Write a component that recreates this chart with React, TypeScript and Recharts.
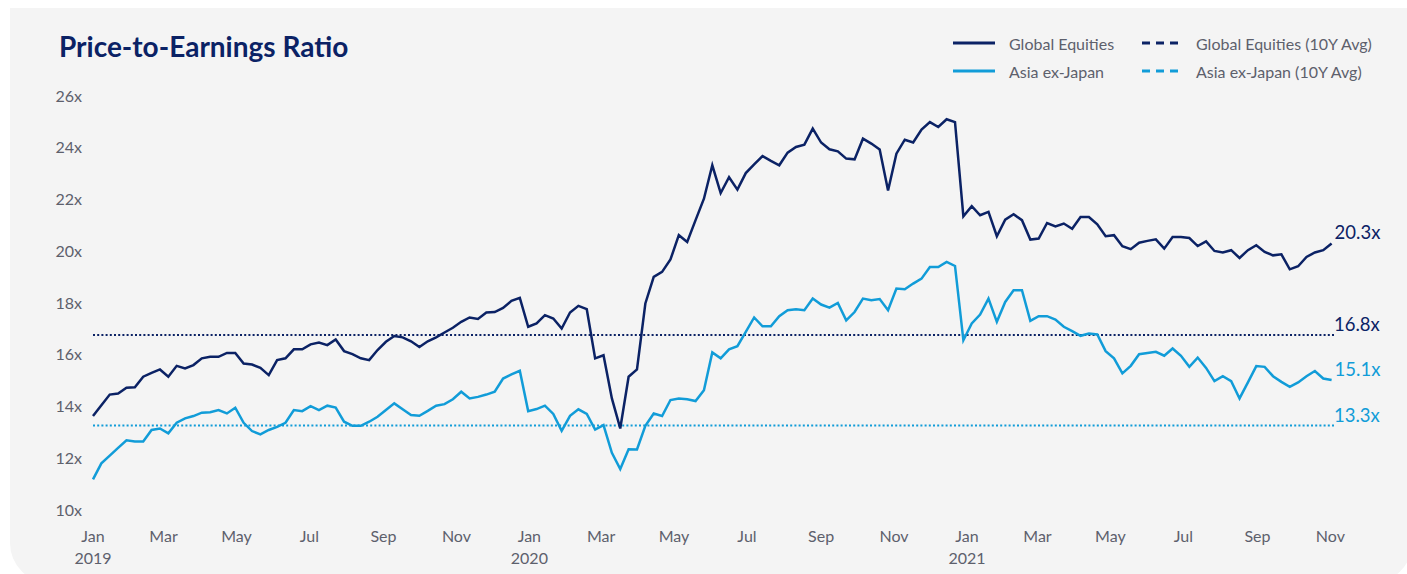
import React from "react";
import { LineChart, Line, XAxis, YAxis, ReferenceLine } from "recharts";

// ---- Data (weekly, Jan 2019 – Nov 2021) ----
const GLOBAL_EQUITIES: number[] = [
  13.67, 14.09, 14.5, 14.54, 14.76, 14.78, 15.19, 15.34, 15.47, 15.19,
  15.61, 15.51, 15.64, 15.9, 15.96, 15.96, 16.11, 16.11, 15.7, 15.66,
  15.53, 15.25, 15.83, 15.9, 16.25, 16.25, 16.44, 16.51, 16.41, 16.63,
  16.18, 16.06, 15.9, 15.83, 16.22, 16.54, 16.76, 16.71, 16.56, 16.34,
  16.56, 16.71, 16.9, 17.08, 17.31, 17.48, 17.42, 17.67, 17.69, 17.85,
  18.12, 18.24, 17.12, 17.25, 17.57, 17.44, 17.05, 17.67, 17.93, 17.8,
  15.9, 16.02, 14.35, 13.19, 15.19, 15.47, 18.02, 19.05, 19.24, 19.72,
  20.66, 20.4, 21.24, 22.07, 23.36, 22.29, 22.9, 22.42, 23.06, 23.4,
  23.72, 23.53, 23.36, 23.85, 24.07, 24.16, 24.78, 24.24, 23.98, 23.9,
  23.62, 23.59, 24.39, 24.2, 23.97, 22.39, 23.81, 24.35, 24.24, 24.74,
  25.03, 24.84, 25.14, 25.03, 21.39, 21.78, 21.43, 21.56, 20.62, 21.26,
  21.47, 21.24, 20.49, 20.53, 21.13, 21.0, 21.11, 20.91, 21.36, 21.36,
  21.08, 20.62, 20.66, 20.23, 20.12, 20.37, 20.44, 20.5, 20.14, 20.59,
  20.59, 20.55, 20.24, 20.42, 20.05, 19.99, 20.08, 19.78, 20.08, 20.27,
  20.01, 19.88, 19.92, 19.34, 19.46, 19.82, 19.99, 20.08, 20.34,
];

const ASIA_EX_JAPAN: number[] = [
  11.22, 11.84, 12.14, 12.44, 12.73, 12.69, 12.69, 13.13, 13.19, 13.0,
  13.41, 13.58, 13.67, 13.8, 13.82, 13.9, 13.77, 13.99, 13.41, 13.09,
  12.96, 13.13, 13.25, 13.41, 13.9, 13.86, 14.05, 13.9, 14.07, 14.0,
  13.45, 13.29, 13.29, 13.45, 13.64, 13.9, 14.16, 13.93, 13.71, 13.68,
  13.87, 14.07, 14.13, 14.32, 14.61, 14.35, 14.41, 14.5, 14.61, 15.12,
  15.28, 15.42, 13.86, 13.94, 14.07, 13.75, 13.1, 13.68, 13.93, 13.75,
  13.15, 13.32, 12.25, 11.62, 12.39, 12.38, 13.29, 13.77, 13.67, 14.29,
  14.35, 14.32, 14.25, 14.67, 16.13, 15.9, 16.25, 16.37, 16.92, 17.48,
  17.14, 17.14, 17.53, 17.76, 17.8, 17.76, 18.21, 17.98, 17.86, 18.04,
  17.37, 17.69, 18.21, 18.15, 18.19, 17.76, 18.6, 18.57, 18.79, 18.98,
  19.43, 19.43, 19.63, 19.47, 16.6, 17.25, 17.59, 18.21, 17.31, 18.08,
  18.53, 18.53, 17.35, 17.53, 17.53, 17.4, 17.12, 16.95, 16.77, 16.86,
  16.82, 16.18, 15.9, 15.32, 15.61, 16.06, 16.11, 16.15, 16.0, 16.28,
  16.0, 15.57, 15.93, 15.53, 15.02, 15.21, 15.02, 14.35, 14.97, 15.6,
  15.57, 15.21, 14.99, 14.8, 14.97, 15.21, 15.41, 15.12, 15.06,
];

const GLOBAL_AVG = 16.8;
const ASIA_AVG = 13.3;
const GLOBAL_END_LABEL = "20.3x";
const ASIA_END_LABEL = "15.1x";

// Days since 1 Jan 2019 for the month ticks
const TICK_DAYS = [0, 59, 120, 181, 243, 304, 365, 425, 486, 547, 609, 670, 731, 790, 851, 912, 974, 1035];
const TICK_MONTHS = ["Jan", "Mar", "May", "Jul", "Sep", "Nov", "Jan", "Mar", "May", "Jul", "Sep", "Nov", "Jan", "Mar", "May", "Jul", "Sep", "Nov"];
const TICK_YEARS = ["2019", "", "", "", "", "", "2020", "", "", "", "", "", "2021", "", "", "", "", ""];
const Y_TICKS = [10, 12, 14, 16, 18, 20, 22, 24, 26];

const LEGEND_ITEMS = [
  { name: "Global Equities", color: "#0b2265", dashed: false },
  { name: "Global Equities (10Y Avg)", color: "#0b2265", dashed: true },
  { name: "Asia ex-Japan", color: "#119cd8", dashed: false },
  { name: "Asia ex-Japan (10Y Avg)", color: "#119cd8", dashed: true },
];

const NAVY = "#0b2265";
const SKY = "#119cd8";
const GRAY = "#5d606c";
const FONT = "Lato, 'Noto Sans', sans-serif";

const data = GLOBAL_EQUITIES.map((v, i) => ({
  day: i * 7,
  ge: v,
  axj: ASIA_EX_JAPAN[i],
}));
const LAST = data.length - 1;

const XTick = (props: any) => {
  const { x, payload } = props;
  const idx = TICK_DAYS.indexOf(payload.value);
  return (
    <g>
      <text x={x} y={527} textAnchor="middle" dominantBaseline="central" fontSize={16} fill={GRAY} fontFamily={FONT}>
        {TICK_MONTHS[idx]}
      </text>
      {TICK_YEARS[idx] ? (
        <text x={x} y={549} textAnchor="middle" dominantBaseline="central" fontSize={16} fill={GRAY} fontFamily={FONT}>
          {TICK_YEARS[idx]}
        </text>
      ) : null}
    </g>
  );
};

const YTick = (props: any) => {
  const { y, payload } = props;
  return (
    <text x={72} y={y - 2} textAnchor="end" dominantBaseline="central" fontSize={16} fill={GRAY} fontFamily={FONT}>
      {`${payload.value}x`}
    </text>
  );
};

const endLabel = (text: string, color: string) => (props: any) => {
  if (props.index !== LAST) return <g />;
  return (
    <text x={props.x + 3} y={props.y - 11} dominantBaseline="central" fontSize={18.5} fill={color} fontFamily={FONT}>
      {text}
    </text>
  );
};

const avgLabel = (text: string, color: string) => (props: any) => {
  const vb = props.viewBox || {};
  return (
    <text x={vb.x + vb.width + 0} y={vb.y - 11} dominantBaseline="central" fontSize={18.5} fill={color} fontFamily={FONT}>
      {text}
    </text>
  );
};

export default function App() {
  return (
    <div style={{ position: "fixed", inset: 0, background: "#ffffff", overflow: "hidden" }}>
      <style>{`html,body{margin:0;overflow:hidden;}`}</style>
      <div
        style={{
          position: "absolute",
          left: 10,
          top: 8,
          width: 1402,
          height: 575,
          background: "#f4f4f4",
          borderBottomLeftRadius: 40,
          borderBottomRightRadius: 40,
        }}
      >
        <LineChart width={1397} height={566} data={data} margin={{ top: 89, right: 73, bottom: 0, left: 0 }}>
          <XAxis
            dataKey="day"
            type="number"
            domain={[0, 1038]}
            ticks={TICK_DAYS}
            interval={0}
            tick={<XTick />}
            axisLine={false}
            tickLine={false}
            height={63}
          />
          <YAxis
            domain={[10, 26]}
            ticks={Y_TICKS}
            interval={0}
            tick={<YTick />}
            axisLine={false}
            tickLine={false}
            width={83}
          />
          <ReferenceLine
            y={GLOBAL_AVG}
            stroke={NAVY}
            strokeWidth={2}
            strokeDasharray="2 2.2"
            label={avgLabel(`${GLOBAL_AVG.toFixed(1)}x`, NAVY)}
          />
          <ReferenceLine
            y={ASIA_AVG}
            stroke={SKY}
            strokeWidth={2}
            strokeDasharray="2 2.2"
            label={avgLabel(`${ASIA_AVG.toFixed(1)}x`, SKY)}
          />
          <Line
            type="linear"
            dataKey="axj"
            stroke={SKY}
            strokeWidth={2.5}
            dot={false}
            activeDot={false}
            isAnimationActive={false}
            label={endLabel(ASIA_END_LABEL, SKY)}
          />
          <Line
            type="linear"
            dataKey="ge"
            stroke={NAVY}
            strokeWidth={2.5}
            dot={false}
            activeDot={false}
            isAnimationActive={false}
            label={endLabel(GLOBAL_END_LABEL, NAVY)}
          />
        </LineChart>
        <svg
          width={1402}
          height={90}
          style={{ position: "absolute", left: 0, top: 0, pointerEvents: "none" }}
        >
          <text x={49} y={49.3} fontSize={28} fontWeight={700} fill={NAVY} fontFamily={FONT}>
            Price-to-Earnings Ratio
          </text>
          {LEGEND_ITEMS.map((item, i) => {
            const col = i % 2;
            const row = Math.floor(i / 2);
            const lx = col === 0 ? 943 : 1132;
            const tx = col === 0 ? 999 : 1186;
            const cy = row === 0 ? 35 : 63;
            return (
              <g key={item.name}>
                <line
                  x1={lx}
                  x2={lx + 42}
                  y1={cy}
                  y2={cy}
                  stroke={item.color}
                  strokeWidth={3}
                  strokeDasharray={item.dashed ? "8 6" : undefined}
                />
                <text x={tx} y={cy} dominantBaseline="central" fontSize={16} fill={GRAY} fontFamily={FONT}>
                  {item.name}
                </text>
              </g>
            );
          })}
        </svg>
      </div>
    </div>
  );
}
